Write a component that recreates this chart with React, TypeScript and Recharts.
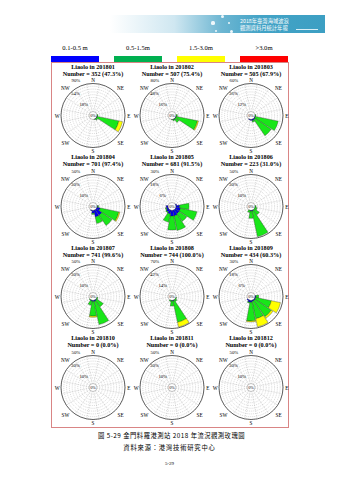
import { RadialBarChart, RadialBar, PolarAngleAxis, PolarRadiusAxis, PolarGrid, Cell } from "recharts";

const DIRS = ["N", "NNE", "NE", "ENE", "E", "ESE", "SE", "SSE", "S", "SSW", "SW", "WSW", "W", "WNW", "NW", "NNW"];
const BINS = ["0.1-0.5 m", "0.5-1.5m", "1.5-3.0m", ">3.0m"];
const BIN_COLORS = ["#0000ee", "#19e619", "#ffff00", "#ff0000"];
const LEGEND_COLORS = ["#0000ff", "#00b050", "#ffff00", "#ff0000"];

const MONTHS = ["201801", "201802", "201803", "201804", "201805", "201806", "201807", "201808", "201809", "201810", "201811", "201812"];
const COUNTS = [352, 507, 505, 701, 681, 223, 741, 744, 434, 0, 0, 0];
const VALID = ["47.3", "75.4", "67.9", "97.4", "91.5", "31.0", "99.6", "100.0", "60.3", "0.0", "0.0", "0.0"];
const RING_MAX = [90, 80, 60, 50, 30, 50, 50, 70, 30, 50, 50, 50];

const EMPTY = [0, 0, 0, 0, 0, 0, 0, 0, 0, 0, 0, 0, 0, 0, 0, 0];

// each rose: [0.1-0.5, 0.5-1.5, 1.5-3.0, >3.0] frequency (%) by direction N..NNW
const rose201801 = [
	[0, 0, 0, 0, 0, 1, 1, 0, 0, 0, 0, 0, 0, 0, 0, 0],
	[0, 0, 0, 0, 3, 71, 5, 1, 0, 0, 0, 0, 0, 0, 0, 0],
	[0, 0, 0, 0, 0, 12, 0, 0, 0, 0, 0, 0, 0, 0, 0, 0],
	EMPTY,
];
const rose201802 = [
	[0, 0, 0, 0, 0, 1, 1, 1, 0, 0, 0, 0, 0, 0, 0, 0],
	[0, 0, 0, 0, 4, 62, 12, 3, 1, 0, 0, 0, 0, 0, 0, 0],
	[0, 0, 0, 0, 0, 3, 0, 0, 0, 0, 0, 0, 0, 0, 0, 0],
	EMPTY,
];
const rose201803 = [
	[0, 0, 0, 0, 0, 1, 2, 3, 2, 1, 0, 0, 0, 0, 0, 0],
	[0, 0, 0, 0, 2, 50, 42, 3, 0, 0, 0, 0, 0, 0, 0, 0],
	EMPTY,
	EMPTY,
];
const rose201804 = [
	[0, 0, 0, 0, 1, 6, 12, 12, 5, 1, 0, 0, 0, 0, 0, 0],
	[0, 0, 0, 0, 2, 34, 22, 12, 2, 0, 0, 0, 0, 0, 0, 0],
	[0, 0, 0, 0, 0, 2, 0, 0, 0, 0, 0, 0, 0, 0, 0, 0],
	EMPTY,
];
const rose201805 = [
	[0, 0, 0, 1, 4, 5, 5, 6, 6, 4, 3, 2, 2, 0, 0, 0],
	[0, 0, 0, 0, 10, 18, 10, 16, 15, 9, 1, 1, 0, 0, 0, 0],
	EMPTY,
	EMPTY,
];
const rose201806 = [
	[0, 0, 0, 0, 0, 0, 0, 1, 1, 0, 0, 0, 0, 0, 0, 0],
	[0, 0, 0, 0, 2, 4, 11, 47, 13, 4, 0, 0, 0, 0, 0, 0],
	EMPTY,
	EMPTY,
];
const rose201807 = [
	[0, 0, 0, 0, 0, 0, 1, 2, 2, 1, 0, 0, 0, 0, 0, 0],
	[0, 0, 0, 0, 0, 2, 14, 42, 26, 8, 1, 0, 0, 0, 0, 0],
	[0, 0, 0, 0, 0, 0, 0, 0, 2, 0, 0, 0, 0, 0, 0, 0],
	EMPTY,
];
const rose201808 = [
	[0, 0, 0, 0, 0, 0, 0, 1, 1, 0, 0, 0, 0, 0, 0, 0],
	[0, 0, 0, 0, 0, 2, 5, 55, 13, 3, 0, 0, 0, 0, 0, 0],
	[0, 0, 0, 0, 0, 0, 0, 12, 0, 0, 0, 0, 0, 0, 0, 0],
	EMPTY,
];
const rose201809 = [
	[0, 0, 0, 0, 1, 1, 1, 1, 2, 2, 1, 0, 0, 0, 0, 0],
	[0, 0, 0, 0, 3, 17, 21, 19, 20, 1, 0, 0, 0, 0, 0, 0],
	[0, 0, 0, 0, 0, 10, 2, 9, 1, 0, 0, 0, 0, 0, 0, 0],
	EMPTY,
];
const rose201810 = [EMPTY, EMPTY, EMPTY, EMPTY];
const rose201811 = [EMPTY, EMPTY, EMPTY, EMPTY];
const rose201812 = [EMPTY, EMPTY, EMPTY, EMPTY];

const ROSES = [rose201801, rose201802, rose201803, rose201804, rose201805, rose201806, rose201807, rose201808, rose201809, rose201810, rose201811, rose201812];

const CX = 42;
const CY = 39.5;
const R_IN = 4;
const R_OUT = 32;

const serif = "'Liberation Serif', 'DejaVu Serif', serif";
const cjk = "'Noto Sans CJK TC', 'Noto Sans CJK SC', sans-serif";

const toXY = (r: number, deg: number) => {
	const a = (deg * Math.PI) / 180;
	return { x: CX + r * Math.cos(a), y: CY - r * Math.sin(a) };
};

// compass labels sit just outside the rim, centred on each direction
const CompassTick = (props: any) => {
	const { payload } = props;
	const i = DIRS.indexOf(payload.value);
	if (payload.value.length > 2 || i < 0) return <g />;
	const p = toXY(payload.value.length === 2 ? 39 : 35.8, 90 - 22.5 * i);
	return (
		<text x={p.x} y={p.y} textAnchor="middle" dominantBaseline="central" fontSize={5.2} fontFamily={serif} fill="#000">
			{payload.value}
		</text>
	);
};

const Rose = ({ idx }: { idx: number }) => {
	const rose = ROSES[idx];
	const max = RING_MAX[idx];
	const data = DIRS.map((dir, i) => ({ dir, b0: rose[0][i], b1: rose[1][i], b2: rose[2][i], b3: rose[3][i] }));
	const ticks = [1, 2, 3, 4, 5, 6, 7, 8, 9, 10].map((k) => (max * k) / 10);
	const col = idx % 3;
	const row = Math.floor(idx / 3);

	// only three rings carry a label, set just outside their circle
	const RingTick = (props: any) => {
		const { x, y, payload } = props;
		const k = Math.round((payload.value * 10) / max);
		if (k !== 2 && k !== 6 && k !== 10) return <g />;
		const rr = Math.hypot(x - CX, y - CY) + (k === 2 ? 5 : 7);
		const p = toXY(rr, k === 10 ? 116 : 129);
		return (
			<text x={p.x} y={p.y} textAnchor="middle" dominantBaseline="central" fontSize={4.8} fontFamily={serif} fill="#000">
				{payload.value}%
			</text>
		);
	};

	return (
		<div style={{ position: "absolute", left: 51 + 79 * col, top: 62 + 90.5 * row, width: 84, height: 91 }}>
			<div style={{ position: "absolute", top: 0.5, left: 0, width: 84, textAlign: "center", fontSize: 6.2, lineHeight: "7px", fontWeight: "bold", fontFamily: serif }}>
				Liaolo in {MONTHS[idx]}
				<br />
				Number = {COUNTS[idx]} ({VALID[idx]}%)
			</div>
			<div style={{ position: "absolute", top: 14, left: 0 }}>
				<RadialBarChart
					width={84}
					height={78}
					cx={CX}
					cy={CY}
					innerRadius={R_IN}
					outerRadius={R_OUT}
					startAngle={78.75}
					endAngle={-281.25}
					layout="centric"
					data={data}
					barCategoryGap="4%"
					margin={{ top: 0, right: 0, bottom: 0, left: 0 }}
				>
					<PolarGrid gridType="circle" stroke="#a0a0a0" strokeWidth={0.4} strokeDasharray="1 1" />
					{BINS.map((bin, k) => (
						<RadialBar key={bin} name={bin} dataKey={`b${k}`} stackId="s" fill={BIN_COLORS[k]} strokeWidth={0.3} isAnimationActive={false}>
							{data.map((d, i) => (
								<Cell key={i} stroke={rose[k][i] > 0 ? "#1a1a1a" : "none"} />
							))}
						</RadialBar>
					))}
					<PolarAngleAxis type="category" dataKey="dir" axisLineType="circle" stroke="#000" strokeWidth={0.6} tickLine={false} tick={CompassTick} />
					<PolarRadiusAxis type="number" domain={[0, max]} ticks={ticks} angle={127} axisLine={false} tickLine={false} tick={RingTick} />
					<circle cx={CX} cy={CY} r={R_IN} fill="#fff" stroke="#555" strokeWidth={0.35} />
					<text x={CX} y={CY} textAnchor="middle" dominantBaseline="central" fontSize={4.2} fontFamily={serif}>
						0%
					</text>
				</RadialBarChart>
			</div>
		</div>
	);
};

const App = () => {
	return (
		<div style={{ position: "absolute", left: 0, top: 0, width: 339, height: 480, background: "#fff", fontFamily: serif, color: "#000" }}>
			{/* report header banner */}
			<div
				style={{
					position: "absolute",
					left: 110,
					top: 15,
					width: 215,
					height: 18,
					background: "linear-gradient(90deg, rgba(255,255,255,0) 0%, #cfe7f1 30%, #6db6d2 52%, #43a3c6 70%, #3c9fc3 100%)",
				}}
			/>
			{[
				[222, 16, 1.5],
				[213, 23, 1.6],
				[229, 23, 1.2],
				[216, 31, 1.4],
				[231, 31, 1.5],
			].map(([x, y, r], i) => (
				<div key={i} style={{ position: "absolute", left: x - r, top: y - r, width: r * 2, height: r * 2, borderRadius: "50%", background: "#eef7fb" }} />
			))}
			<div style={{ position: "absolute", left: 240, top: 17.5, fontSize: 5.3, lineHeight: "7px", color: "#fff", fontFamily: cjk, whiteSpace: "nowrap" }}>
				2018年臺灣海域波浪
				<br />
				觀測資料月統計年報
			</div>
			<div style={{ position: "absolute", left: 296, top: 29, width: 22, height: 0, borderTop: "0.5px solid #d8eef6" }} />

			{/* legend */}
			{BINS.map((bin, k) => (
				<div key={bin}>
					<div style={{ position: "absolute", left: 51 + 63 * k - 6, top: 44, width: 60, textAlign: "center", fontSize: 6.6, lineHeight: "8px", fontFamily: serif }}>
						{bin}
					</div>
					<div style={{ position: "absolute", left: 51 + 63 * k, top: 56, width: 48, height: 6, background: LEGEND_COLORS[k] }} />
				</div>
			))}

			{/* frame */}
			<div style={{ position: "absolute", left: 51, top: 62, width: 236, height: 364, border: "1px solid #d98585" }} />

			{MONTHS.map((m, i) => (
				<Rose key={m} idx={i} />
			))}

			{/* caption */}
			<div style={{ position: "absolute", left: 0, top: 432, width: 339, textAlign: "center", fontSize: 6.3, lineHeight: "8px", letterSpacing: 0.5, fontFamily: cjk, paddingLeft: 2 }}>
				圖 5-29 金門料羅港測站 2018 年流況觀測玫瑰圖
			</div>
			<div style={{ position: "absolute", left: 0, top: 444, width: 339, textAlign: "center", fontSize: 6.3, lineHeight: "8px", letterSpacing: 0.8, fontFamily: cjk }}>
				資料來源：港灣技術研究中心
			</div>
			<div style={{ position: "absolute", left: 0, top: 461, width: 339, textAlign: "center", fontSize: 5, lineHeight: "6px", fontFamily: serif }}>
				5-29
			</div>
		</div>
	);
};

export default App;
